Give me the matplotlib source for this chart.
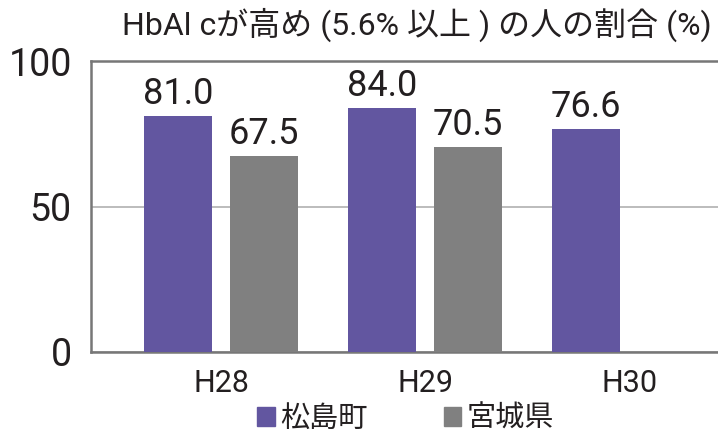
import matplotlib
matplotlib.use("Agg")
from matplotlib import pyplot as plt
from matplotlib.patches import Patch
import numpy as np

plt.rcParams['font.family'] = ['Roboto', 'Noto Sans CJK JP', 'DejaVu Sans']

# data
years = ['H28', 'H29', 'H30']
matsushima = [81.0, 84.0, 76.6]
miyagi = [67.5, 70.5, None]
series_names = ['松島町', '宮城県']
title = 'HbAl cが高め (5.6% 以上 ) の人の割合 (%)'

purple = '#6256a0'
grey = '#808080'
text_c = '#231f20'

fig = plt.figure(figsize=(7.18, 4.34), dpi=100)
ax = fig.add_axes([0.127, 0.189, 0.873, 0.670])

x = np.arange(len(years))
w = 0.333
off = 0.211

b1 = ax.bar(x - off, matsushima, w, color=purple, zorder=3)
miyagi_vals = [v if v is not None else 0 for v in miyagi]
b2 = ax.bar(x + off, miyagi_vals, w, color=grey, zorder=3)
for b, v in zip(b2, miyagi):
    if v is None:
        b.set_visible(False)

ax.bar_label(b1, labels=[f'{v:.1f}' for v in matsushima], padding=3,
             fontsize=26, color=text_c)
ax.bar_label(b2, labels=[f'{v:.1f}' if v is not None else '' for v in miyagi],
             padding=3, fontsize=26, color=text_c)

ax.set_xlim(-0.637, 2.436)
ax.set_ylim(0, 100)
ax.set_yticks([0, 50, 100])
ax.set_xticks(x)
ax.set_xticklabels(years)
ax.yaxis.grid(True, color='#b0b0b0', linewidth=1.2, zorder=0)
ax.tick_params(axis='y', length=0, pad=14, labelsize=27, labelcolor=text_c)
ax.tick_params(axis='x', length=0, pad=12, labelsize=22, labelcolor=text_c)

for s in ['left', 'top', 'bottom']:
    ax.spines[s].set_color('#777777')
    ax.spines[s].set_linewidth(1.8)
ax.spines['right'].set_visible(False)

fig.text(0.58, 0.942, title, ha='center', va='center', fontsize=23, color=text_c)

handles = [Patch(color=purple), Patch(color=grey)]
fig.legend(handles, series_names, loc='lower center', bbox_to_anchor=(0.565, -0.058),
           ncol=2, frameon=False, fontsize=21, handlelength=0.6, handleheight=0.6,
           handletextpad=0.2, columnspacing=2.6, labelcolor=text_c)

plt.savefig('out.png', dpi=100)
